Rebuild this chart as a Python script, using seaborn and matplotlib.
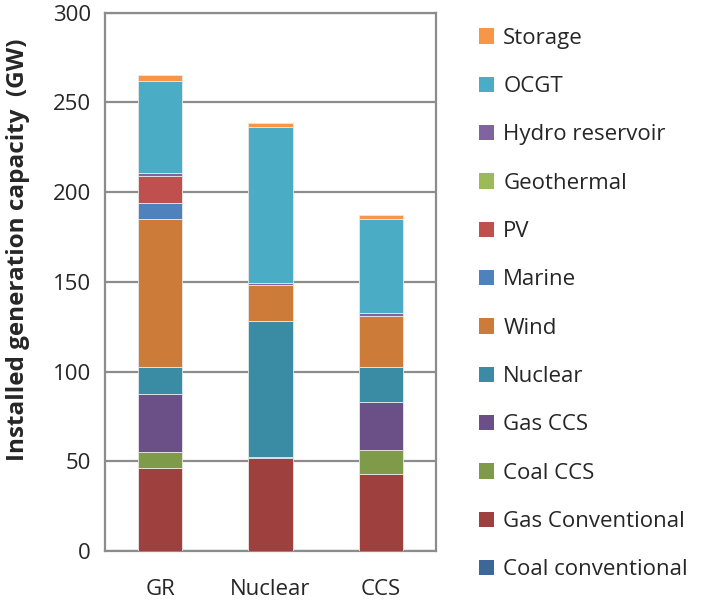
import matplotlib
matplotlib.use("Agg")
import matplotlib.pyplot as plt
import matplotlib.patches as mpatches
from matplotlib.ticker import MultipleLocator
import seaborn as sns
import pandas as pd

scenarios = ["GR", "Nuclear", "CCS"]
# technologies listed top (of stack / legend) to bottom
technologies = ["Storage", "OCGT", "Hydro reservoir", "Geothermal", "PV", "Marine",
                "Wind", "Nuclear", "Gas CCS", "Coal CCS", "Gas Conventional",
                "Coal conventional"]
colors = ["#F79646", "#4BACC6", "#8064A2", "#9BBB59", "#C0504D", "#4F81BD",
          "#CC7B38", "#3A8CA4", "#6A5087", "#7F9A48", "#9E413E", "#3C6798"]

storage = [3.3, 2.4, 2.2]
ocgt = [51.6, 86.7, 52.3]
hydro = [1.6, 1.2, 2.2]
geothermal = [0.0, 0.0, 0.0]
pv = [14.7, 0.0, 0.0]
marine = [8.9, 0.0, 0.0]
wind = [82.4, 20.0, 27.9]
nuclear = [15.4, 75.8, 19.9]
gas_ccs = [32.4, 0.9, 26.6]
coal_ccs = [8.9, 0.0, 13.5]
gas_conv = [46.1, 51.7, 42.8]
coal_conv = [0.0, 0.0, 0.0]

series = [storage, ocgt, hydro, geothermal, pv, marine, wind, nuclear,
          gas_ccs, coal_ccs, gas_conv, coal_conv]

rows = []
for tech, vals in zip(technologies, series):
    for sc, v in zip(scenarios, vals):
        rows.append({"scenario": sc, "tech": tech, "GW": v})
df = pd.DataFrame(rows)
df["scenario"] = pd.Categorical(df["scenario"], categories=scenarios, ordered=True)

sns.set_style("white")
plt.rcParams["font.family"] = ["Open Sans", "DejaVu Sans"]

fig = plt.figure(figsize=(7.01, 6.07), dpi=100)
ax = fig.add_axes([0.1498, 0.0923, 0.622 - 0.1498, 0.979 - 0.0923])

sns.histplot(data=df, x="scenario", weights="GW", hue="tech",
             hue_order=technologies, palette=dict(zip(technologies, colors)),
             multiple="stack", discrete=True, shrink=0.4, alpha=1,
             edgecolor="#e8e8e8", linewidth=0.6, legend=False, ax=ax, zorder=3)

gray = "#8c8c8c"
ax.set_xlim(-0.5, 2.5)
ax.set_ylim(0, 300)
ax.yaxis.set_major_locator(MultipleLocator(50))
ax.yaxis.set_minor_locator(MultipleLocator(10))
ax.grid(axis="y", which="major", color=gray, linewidth=1.6, zorder=0)
ax.grid(axis="x", visible=False)
ax.set_axisbelow(True)
for s in ax.spines.values():
    s.set_color(gray)
    s.set_linewidth(1.6)
    s.set_visible(True)

ax.set_xticks([0, 1, 2])
ax.set_xticklabels(scenarios)
ax.set_xticks([-0.5, 0.5, 1.5, 2.5], minor=True)
ax.tick_params(axis="x", which="major", length=0, pad=20, labelsize=16)
ax.tick_params(axis="x", which="minor", length=7, width=1.6, color=gray, direction="out")
ax.tick_params(axis="y", which="major", length=8, width=1.6, color=gray,
               direction="out", labelsize=16, pad=2)
ax.tick_params(axis="y", which="minor", length=5, width=1.2, color=gray, direction="in")
ax.set_xlabel("")
ax.set_ylabel("Installed generation capacity  (GW)", fontsize=17.5, fontweight="bold",
              va="center")
ax.yaxis.set_label_coords(-0.262, 0.559)

handles = [mpatches.Patch(facecolor=c, edgecolor="none") for c in colors]
fig.legend(handles, technologies, loc="upper left", bbox_to_anchor=(0.671, 0.969),
           frameon=False, fontsize=16, handlelength=0.68, handleheight=0.68,
           handletextpad=0.4, labelspacing=1.23, borderaxespad=0)

fig.savefig("out.png", dpi=100)
